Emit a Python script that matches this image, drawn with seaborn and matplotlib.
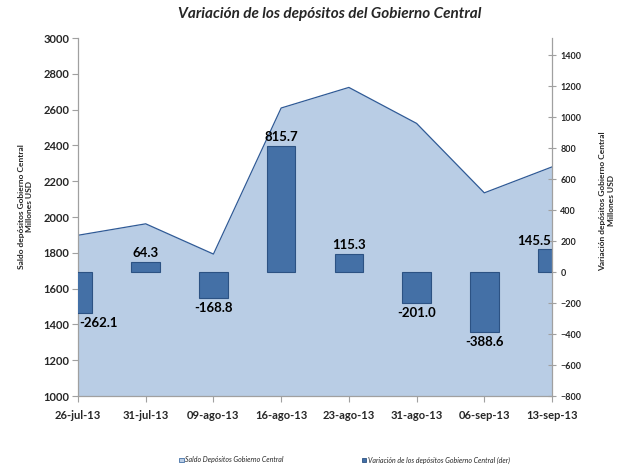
import numpy as np
import matplotlib
matplotlib.use("Agg")
import matplotlib.pyplot as plt
from matplotlib.patches import Patch
import seaborn as sns

# datos
fechas = ["26-jul-13", "31-jul-13", "09-ago-13", "16-ago-13",
          "23-ago-13", "31-ago-13", "06-sep-13", "13-sep-13"]
saldo = [1898, 1962, 1793, 2609, 2724, 2523, 2135, 2280]
variacion = [-262.1, 64.3, -168.8, 815.7, 115.3, -201.0, -388.6, 145.5]

area_fill = "#B9CDE5"
area_line = "#2F5A96"
bar_fill = "#4470A6"
bar_edge = "#2C5283"

sns.set_style("white")
plt.rcParams["font.family"] = ["Lato", "DejaVu Sans"]

fig = plt.figure(figsize=(6.17, 4.67), dpi=100)
ax1 = fig.add_axes([0.1264, 0.152, 0.7683, 0.7666])
ax2 = ax1.twinx()

x = np.arange(len(fechas))

# area - saldo
ax1.fill_between(x, 1000, saldo, color=area_fill, lw=0)
sns.lineplot(x=x, y=saldo, ax=ax1, color=area_line, lw=0.9)
ax1.set_ylim(1000, 3000)
ax1.set_yticks(range(1000, 3001, 200))

# barras - variacion
sns.barplot(x=fechas, y=variacion, ax=ax2, color=bar_fill, saturation=1,
            width=0.42, edgecolor=bar_edge, linewidth=0.8)
ax2.set_ylim(-800, 1510)
ax2.set_yticks(range(-800, 1401, 200))

ax1.set_xlim(0, len(fechas) - 1)
ax1.set_xticks(x)
ax1.set_xticklabels(fechas, fontsize=8, fontweight="bold")

for i, v in enumerate(variacion):
    ha = "center"
    dx = 0
    if i == 0:
        ha, dx = "left", 1
    elif i == len(variacion) - 1:
        ha, dx = "right", -1
    off = 2 if v > 0 else -3
    ax2.annotate(f"{v:.1f}", (i, v), xytext=(dx, off), textcoords="offset points",
                 ha=ha, va="bottom" if v > 0 else "top",
                 fontsize=9.5, fontweight="bold", color="black")

# ejes
for ax in (ax1, ax2):
    for s in ax.spines.values():
        s.set_visible(False)
ax1.spines["left"].set_visible(True)
ax1.spines["bottom"].set_visible(True)
ax2.spines["right"].set_visible(True)
for s in (ax1.spines["left"], ax1.spines["bottom"], ax2.spines["right"]):
    s.set_color("#A0A0A0")
    s.set_linewidth(0.9)

ax1.tick_params(axis="y", labelsize=8, length=4, color="#A0A0A0", pad=2, left=True)
ax1.tick_params(axis="x", length=4, color="#A0A0A0", pad=6, bottom=True)
for t in ax1.get_yticklabels():
    t.set_fontweight("bold")
ax2.tick_params(axis="y", labelsize=6.5, length=6, direction="inout",
                color="#A0A0A0", pad=3, right=True)
for t in ax2.get_yticklabels():
    t.set_fontweight("bold")

ax1.set_ylabel("Saldo depósitos Gobierno Central\nMillones USD",
               fontsize=6, fontweight="bold")
ax1.yaxis.set_label_coords(-0.095, 0.53)
ax2.set_ylabel("Variación depósitos Gobierno Central\nMillones USD",
               fontsize=6, fontweight="bold")
ax2.yaxis.set_label_coords(1.1, 0.545)
ax1.set_xlabel("")
ax2.set_xlabel("")

fig.suptitle("Variación de los depósitos del Gobierno Central", x=0.535, y=0.985,
             fontsize=11, fontweight="bold", fontstyle="italic")

# leyenda
entradas = [(Patch(facecolor=area_fill, edgecolor=bar_fill, lw=0.6),
             "Saldo Depósitos Gobierno Central", 0.29),
            (Patch(facecolor=bar_fill, edgecolor=bar_edge, lw=0.6),
             "Variación de los depósitos Gobierno Central (der)", 0.586)]
for h, lab, xpos in entradas:
    leg = fig.legend([h], [lab], loc="center left", bbox_to_anchor=(xpos, 0.015),
                     frameon=False, fontsize=5, handlelength=0.7,
                     handleheight=0.7, handletextpad=0.2, borderpad=0,
                     borderaxespad=0)
    for t in leg.get_texts():
        t.set_fontstyle("italic")

fig.savefig("out.png", dpi=100)
